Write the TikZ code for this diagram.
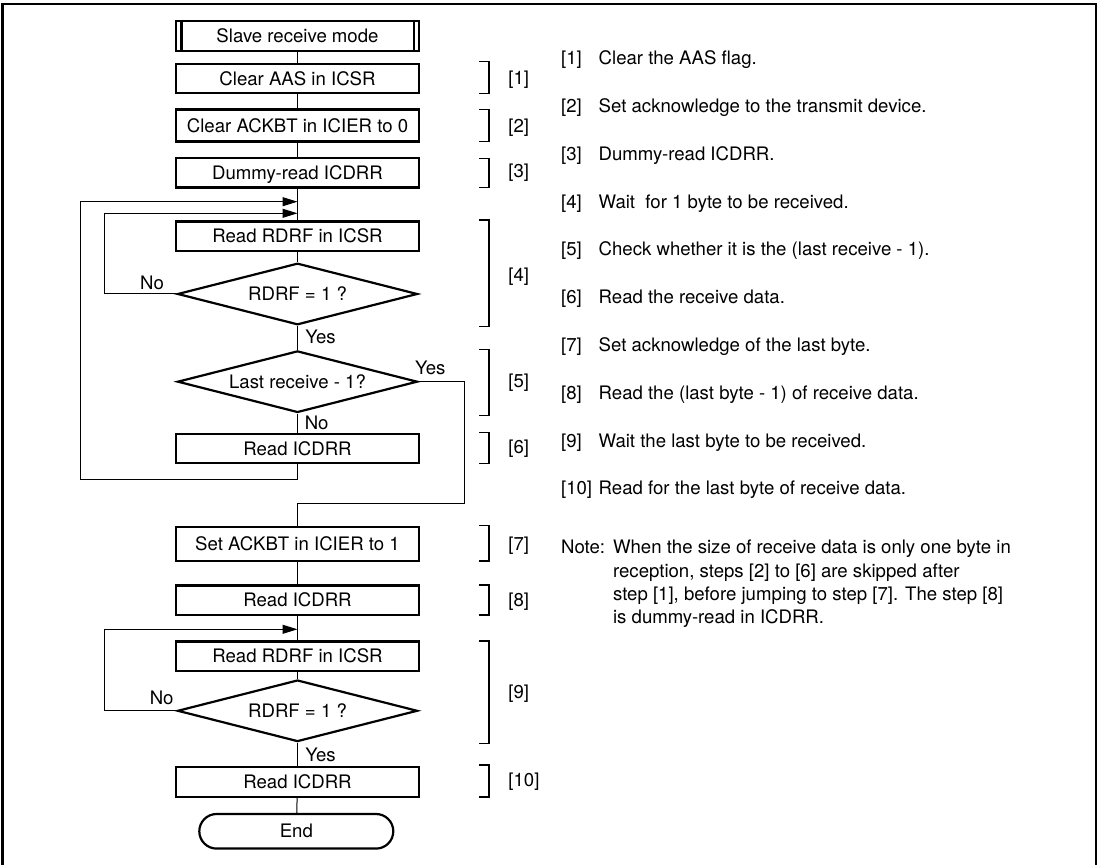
\documentclass[tikz,border=0pt]{standalone}
\usepackage{fontspec}
\setmainfont{TeX Gyre Heros}
\usetikzlibrary{shapes.geometric,shapes.misc,arrows.meta}

\begin{document}
\begin{tikzpicture}[x=0.5pt, y=-0.5pt, font=\fontsize{9.3}{11.67}\selectfont,
    box/.style={draw, line width=1.1pt, minimum width=121.8pt, minimum height=14.7pt,
        inner sep=0pt, text height=6.7pt, text depth=0pt},
    test/.style={draw, diamond, shape aspect=4, line width=1.1pt, minimum width=120pt,
        minimum height=30.8pt, inner sep=0pt, text height=6.7pt, text depth=0pt},
    lbl/.style={inner sep=0pt, text height=6.7pt, text depth=0pt},
    link/.style={line width=0.5pt},
    arr/.style={line width=0.5pt, -{Triangle[length=7.5pt, width=4.5pt]}},
    brk/.style={line width=0.6pt},
    outer/.style={line width=1.2pt}]

    \useasboundingbox (0,0) rectangle (1100,865);

    \draw[outer] (2.5,865) -- (2.5,4) -- (1096,4) -- (1096,865);

    \node[box, minimum height=15pt] (start) at (297.5,35.7) {Slave receive mode};
    \draw[line width=1.1pt] ([xshift=3.4pt]start.north west) -- ([xshift=3.4pt]start.south west);
    \draw[line width=1.1pt] ([xshift=-3.4pt]start.north east) -- ([xshift=-3.4pt]start.south east);

    \node[box] (aas) at (297.5,78.7) {Clear AAS in ICSR};
    \node[box, minimum height=16pt] (ack0) at (297.5,125.5) {Clear ACKBT in ICIER to 0};
    \node[box] (dummy) at (297.5,172.8) {Dummy-read ICDRR};
    \node[box] (rdrf) at (297.5,236.2) {Read RDRF in ICSR};
    \node[test] (full) at (297.5,294) {RDRF = 1 ?};
    \node[test] (last) at (297.5,381.7) {Last receive - 1?};
    \node[box] (read) at (297.5,448.7) {Read ICDRR};
    \node[box, minimum height=17pt] (ack1) at (297.5,543.7) {Set ACKBT in ICIER to 1};
    \node[box] (readb) at (297.5,600.3) {Read ICDRR};
    \node[box] (rdrfb) at (297.5,656.3) {Read RDRF in ICSR};
    \node[test] (fullb) at (297.5,710.8) {RDRF = 1 ?};
    \node[box] (readc) at (297.5,782) {Read ICDRR};
    \node[draw, rounded rectangle, line width=1.1pt, minimum width=97pt, minimum height=17.3pt,
        inner sep=0pt, text height=6.7pt, text depth=0pt] (end) at (296.3,831.3) {End};

    \coordinate (j1) at (297.5,201.7);
    \coordinate (j2) at (297.5,213.3);
    \coordinate (j3) at (297.5,629.3);
    \coordinate (l1) at (104.3,213.3);
    \coordinate (l2) at (80,479.3);
    \coordinate (l3) at (104.3,629.3);
    \coordinate (r1) at (464.3,503.3);

    \draw[link] (start) -- (aas);
    \draw[link] (aas) -- (ack0);
    \draw[link] (ack0) -- (dummy);
    \draw[link] (dummy) -- (rdrf);
    \draw[link] (rdrf) -- (full);
    \draw[link] (full) -- (last);
    \draw[link] (last) -- (read);
    \draw[arr] (full.west) -| (l1) -- (j2);
    \draw[arr] (read.south) |- (l2) |- (j1);
    \draw[link] (last.east) -| (r1) -| (ack1.north);
    \draw[link] (ack1) -- (readb);
    \draw[link] (readb) -- (rdrfb);
    \draw[link] (rdrfb) -- (fullb);
    \draw[arr] (fullb.west) -| (l3) -- (j3);
    \draw[link] (fullb) -- (readc);
    \draw[link] (readc) -- (end);

    \node[lbl] (no1) at (152,283) {No};
    \node[lbl] (yes1) at (320.5,336.7) {Yes};
    \node[lbl] (yes2) at (430.2,367.7) {Yes};
    \node[lbl] (no2) at (316.7,422.7) {No};
    \node[lbl] (no3) at (161.7,697.8) {No};
    \node[lbl] (yes3) at (320.5,755) {Yes};

    \draw[brk] (479.3,61.7) -- (489,61.7) -- (489,93.3) -- (479.3,93.3);
    \draw[brk] (479.3,109.3) -- (489,109.3) -- (489,141.7) -- (479.3,141.7);
    \draw[brk] (479.3,158.3) -- (489,158.3) -- (489,187.3) -- (479.3,187.3);
    \draw[brk] (479.3,220) -- (489,220) -- (489,326.7) -- (479.3,326.7);
    \draw[brk] (479.3,349.3) -- (489,349.3) -- (489,415.7) -- (479.3,415.7);
    \draw[brk] (479.3,432.7) -- (489,432.7) -- (489,463.3) -- (479.3,463.3);
    \draw[brk] (479.3,525.3) -- (489,525.3) -- (489,561) -- (479.3,561);
    \draw[brk] (479.3,585) -- (489,585) -- (489,615) -- (479.3,615);
    \draw[brk] (479.3,641) -- (489,641) -- (489,743.3) -- (479.3,743.3);
    \draw[brk] (479.3,765) -- (489,765) -- (489,797) -- (479.3,797);

    \node[lbl, anchor=west] (s1) at (508,78) {[1]};
    \node[lbl, anchor=west] (s2) at (508,126.3) {[2]};
    \node[lbl, anchor=west] (s3) at (508,171.3) {[3]};
    \node[lbl, anchor=west] (s4) at (508,274.7) {[4]};
    \node[lbl, anchor=west] (s5) at (508,381.3) {[5]};
    \node[lbl, anchor=west] (s6) at (508,447.3) {[6]};
    \node[lbl, anchor=west] (s7) at (508,544) {[7]};
    \node[lbl, anchor=west] (s8) at (508,599.7) {[8]};
    \node[lbl, anchor=west] (s9) at (508,692.3) {[9]};
    \node[lbl, anchor=west] (s10) at (508,779.7) {[10]};

    \node[inner sep=0pt, anchor=base west] (t1) at (560.7,65) {\makebox[18.8pt][l]{[1]}Clear the AAS flag.};
    \node[inner sep=0pt, anchor=base west] (t2) at (560.7,113) {\makebox[18.8pt][l]{[2]}Set acknowledge to the transmit device.};
    \node[inner sep=0pt, anchor=base west] (t3) at (560.7,160.5) {\makebox[18.8pt][l]{[3]}Dummy-read ICDRR.};
    \node[inner sep=0pt, anchor=base west] (t4) at (560.7,208.3) {\makebox[18.8pt][l]{[4]}Wait~ for 1 byte to be received.};
    \node[inner sep=0pt, anchor=base west] (t5) at (560.7,256) {\makebox[18.8pt][l]{[5]}Check whether it is the (last receive - 1).};
    \node[inner sep=0pt, anchor=base west] (t6) at (560.7,304) {\makebox[18.8pt][l]{[6]}Read the receive data.};
    \node[inner sep=0pt, anchor=base west] (t7) at (560.7,351.7) {\makebox[18.8pt][l]{[7]}Set acknowledge of the last byte.};
    \node[inner sep=0pt, anchor=base west] (t8) at (560.7,399.5) {\makebox[18.8pt][l]{[8]}Read the (last byte - 1) of receive data.};
    \node[inner sep=0pt, anchor=base west] (t9) at (560.7,447.3) {\makebox[18.8pt][l]{[9]}Wait the last byte to be received.};
    \node[inner sep=0pt, anchor=base west] (t10) at (560.7,495) {\makebox[18.8pt][l]{[10]}Read for the last byte of receive data.};

    \node[inner sep=0pt, anchor=north west, align=left] (note) at (560.7,539.7)
        {\makebox[26pt][l]{Note:}When the size of receive data is only one byte in\\
         \hspace*{26pt}reception, steps [2] to [6] are skipped after\\
         \hspace*{26pt}step [1], before jumping to step [7]. The step [8]\\
         \hspace*{26pt}is dummy-read in ICDRR.};

\end{tikzpicture}
\end{document}
